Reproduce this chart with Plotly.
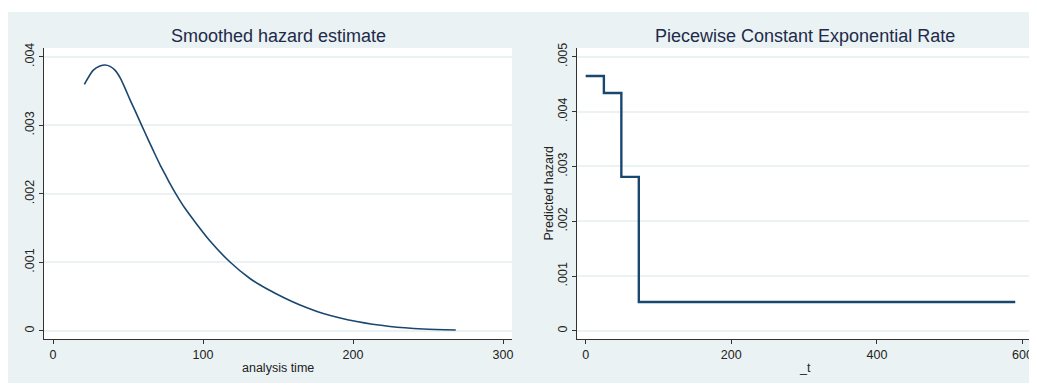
import plotly.graph_objects as go

# ---- data ----
smooth_t = [20.9, 26.9, 31.3, 34.7, 38.0, 41.3, 44.7, 48.0, 51.3, 54.7, 58.0, 61.3,
            64.7, 68.0, 71.3, 74.7, 78.0, 82.0, 88.0, 93.5, 104.7, 118.0, 131.3,
            142.5, 154.7, 164.7, 180.2, 202.5, 224.7, 246.9, 268.5]
smooth_h = [0.003596, 0.003805, 0.003863, 0.003878, 0.003859, 0.003805, 0.003695,
            0.003542, 0.003375, 0.003214, 0.003054, 0.002894, 0.002733, 0.002577,
            0.002427, 0.002286, 0.002150, 0.001997, 0.001789, 0.001625, 0.001312,
            0.001006, 0.000765, 0.000615, 0.000477, 0.000379, 0.000255, 0.000138,
            0.000066, 0.000029, 0.000015]

step_t = [0, 25, 49, 73, 590]
step_rate = [0.00465, 0.00434, 0.00281, 0.00053, 0.00053]

left_xticks = [0, 100, 200, 300]
left_yticks = [0, 0.001, 0.002, 0.003, 0.004]
left_ylabels = ["0", ".001", ".002", ".003", ".004"]
right_xticks = [0, 200, 400, 600]
right_yticks = [0, 0.001, 0.002, 0.003, 0.004, 0.005]
right_ylabels = ["0", ".001", ".002", ".003", ".004", ".005"]

titles = ["Smoothed hazard estimate", "Piecewise Constant Exponential Rate"]
xtitles = ["analysis time", "_t"]
ytitle_right = "Predicted hazard"

# ---- style ----
OFF = 8  # page body margin
W, H = 1037 - OFF, 385 - OFF
BG = "#eaf2f3"
NAVY = "#1a476f"
TXT = "#222222"
FONT = "Liberation Sans, Arial, sans-serif"

def px_x(p):
    return (p - OFF) / W

def px_y(p):
    return (385 - p) / H

fig = go.Figure()

fig.add_trace(go.Scatter(x=smooth_t, y=smooth_h, mode="lines",
                         line=dict(color=NAVY, width=1.6, shape="spline", smoothing=0.8),
                         xaxis="x", yaxis="y", showlegend=False))
fig.add_trace(go.Scatter(x=step_t, y=step_rate, mode="lines",
                         line=dict(color=NAVY, width=2.4, shape="hv"),
                         xaxis="x2", yaxis="y2", showlegend=False))

axis_common = dict(showline=True, linecolor="#333333", linewidth=1,
                   ticks="outside", ticklen=4, tickcolor="#333333",
                   zeroline=False, automargin=False,
                   tickfont=dict(family=FONT, size=12.5, color=TXT))

ydom = [px_y(339), px_y(48)]

fig.update_layout(
    width=W, height=H,
    margin=dict(l=0, r=0, t=0, b=0),
    paper_bgcolor=BG, plot_bgcolor="white",
    font=dict(family=FONT, color=TXT),
    xaxis=dict(domain=[px_x(44), px_x(512)], range=[-6, 306],
               tickvals=left_xticks, showgrid=False,
               anchor="y", **axis_common),
    yaxis=dict(domain=ydom, range=[-0.000117, 0.004127],
               tickvals=left_yticks, ticktext=left_ylabels, tickangle=-90,
               showgrid=True, gridcolor=BG, gridwidth=1.5,
               anchor="x", **axis_common),
    xaxis2=dict(domain=[px_x(577.3), px_x(1031.7)], range=[-11.5, 612.6],
                tickvals=right_xticks, showgrid=False,
                anchor="y2", **axis_common),
    yaxis2=dict(domain=ydom, range=[-0.000146, 0.00516],
                tickvals=right_yticks, ticktext=right_ylabels, tickangle=-90,
                showgrid=True, gridcolor=BG, gridwidth=1.5,
                anchor="x2", **axis_common),
)

# white strips around the grey panel area
fig.add_shape(type="rect", xref="paper", yref="paper", x0=0, x1=1, y0=px_y(12), y1=1,
              fillcolor="white", line=dict(width=0), layer="below")
fig.add_shape(type="rect", xref="paper", yref="paper", x0=0, x1=1, y0=0, y1=px_y(383),
              fillcolor="white", line=dict(width=0), layer="below")

for title, cx in zip(titles, [278, 804.5]):
    fig.add_annotation(text=title, x=px_x(cx), y=px_y(36), xref="paper", yref="paper",
                       showarrow=False, xanchor="center", yanchor="middle",
                       font=dict(family=FONT, size=18, color="#1e2a4a"))

for t, cx in zip(xtitles, [278, 804.5]):
    fig.add_annotation(text=t, x=px_x(cx), y=px_y(368), xref="paper", yref="paper",
                       showarrow=False, xanchor="center", yanchor="middle",
                       font=dict(family=FONT, size=12.5, color=TXT))

fig.add_annotation(text=ytitle_right, x=px_x(548), y=px_y(193.5), xref="paper", yref="paper",
                   showarrow=False, xanchor="center", yanchor="middle", textangle=-90,
                   font=dict(family=FONT, size=12.5, color=TXT))

fig.write_html("out.html")
